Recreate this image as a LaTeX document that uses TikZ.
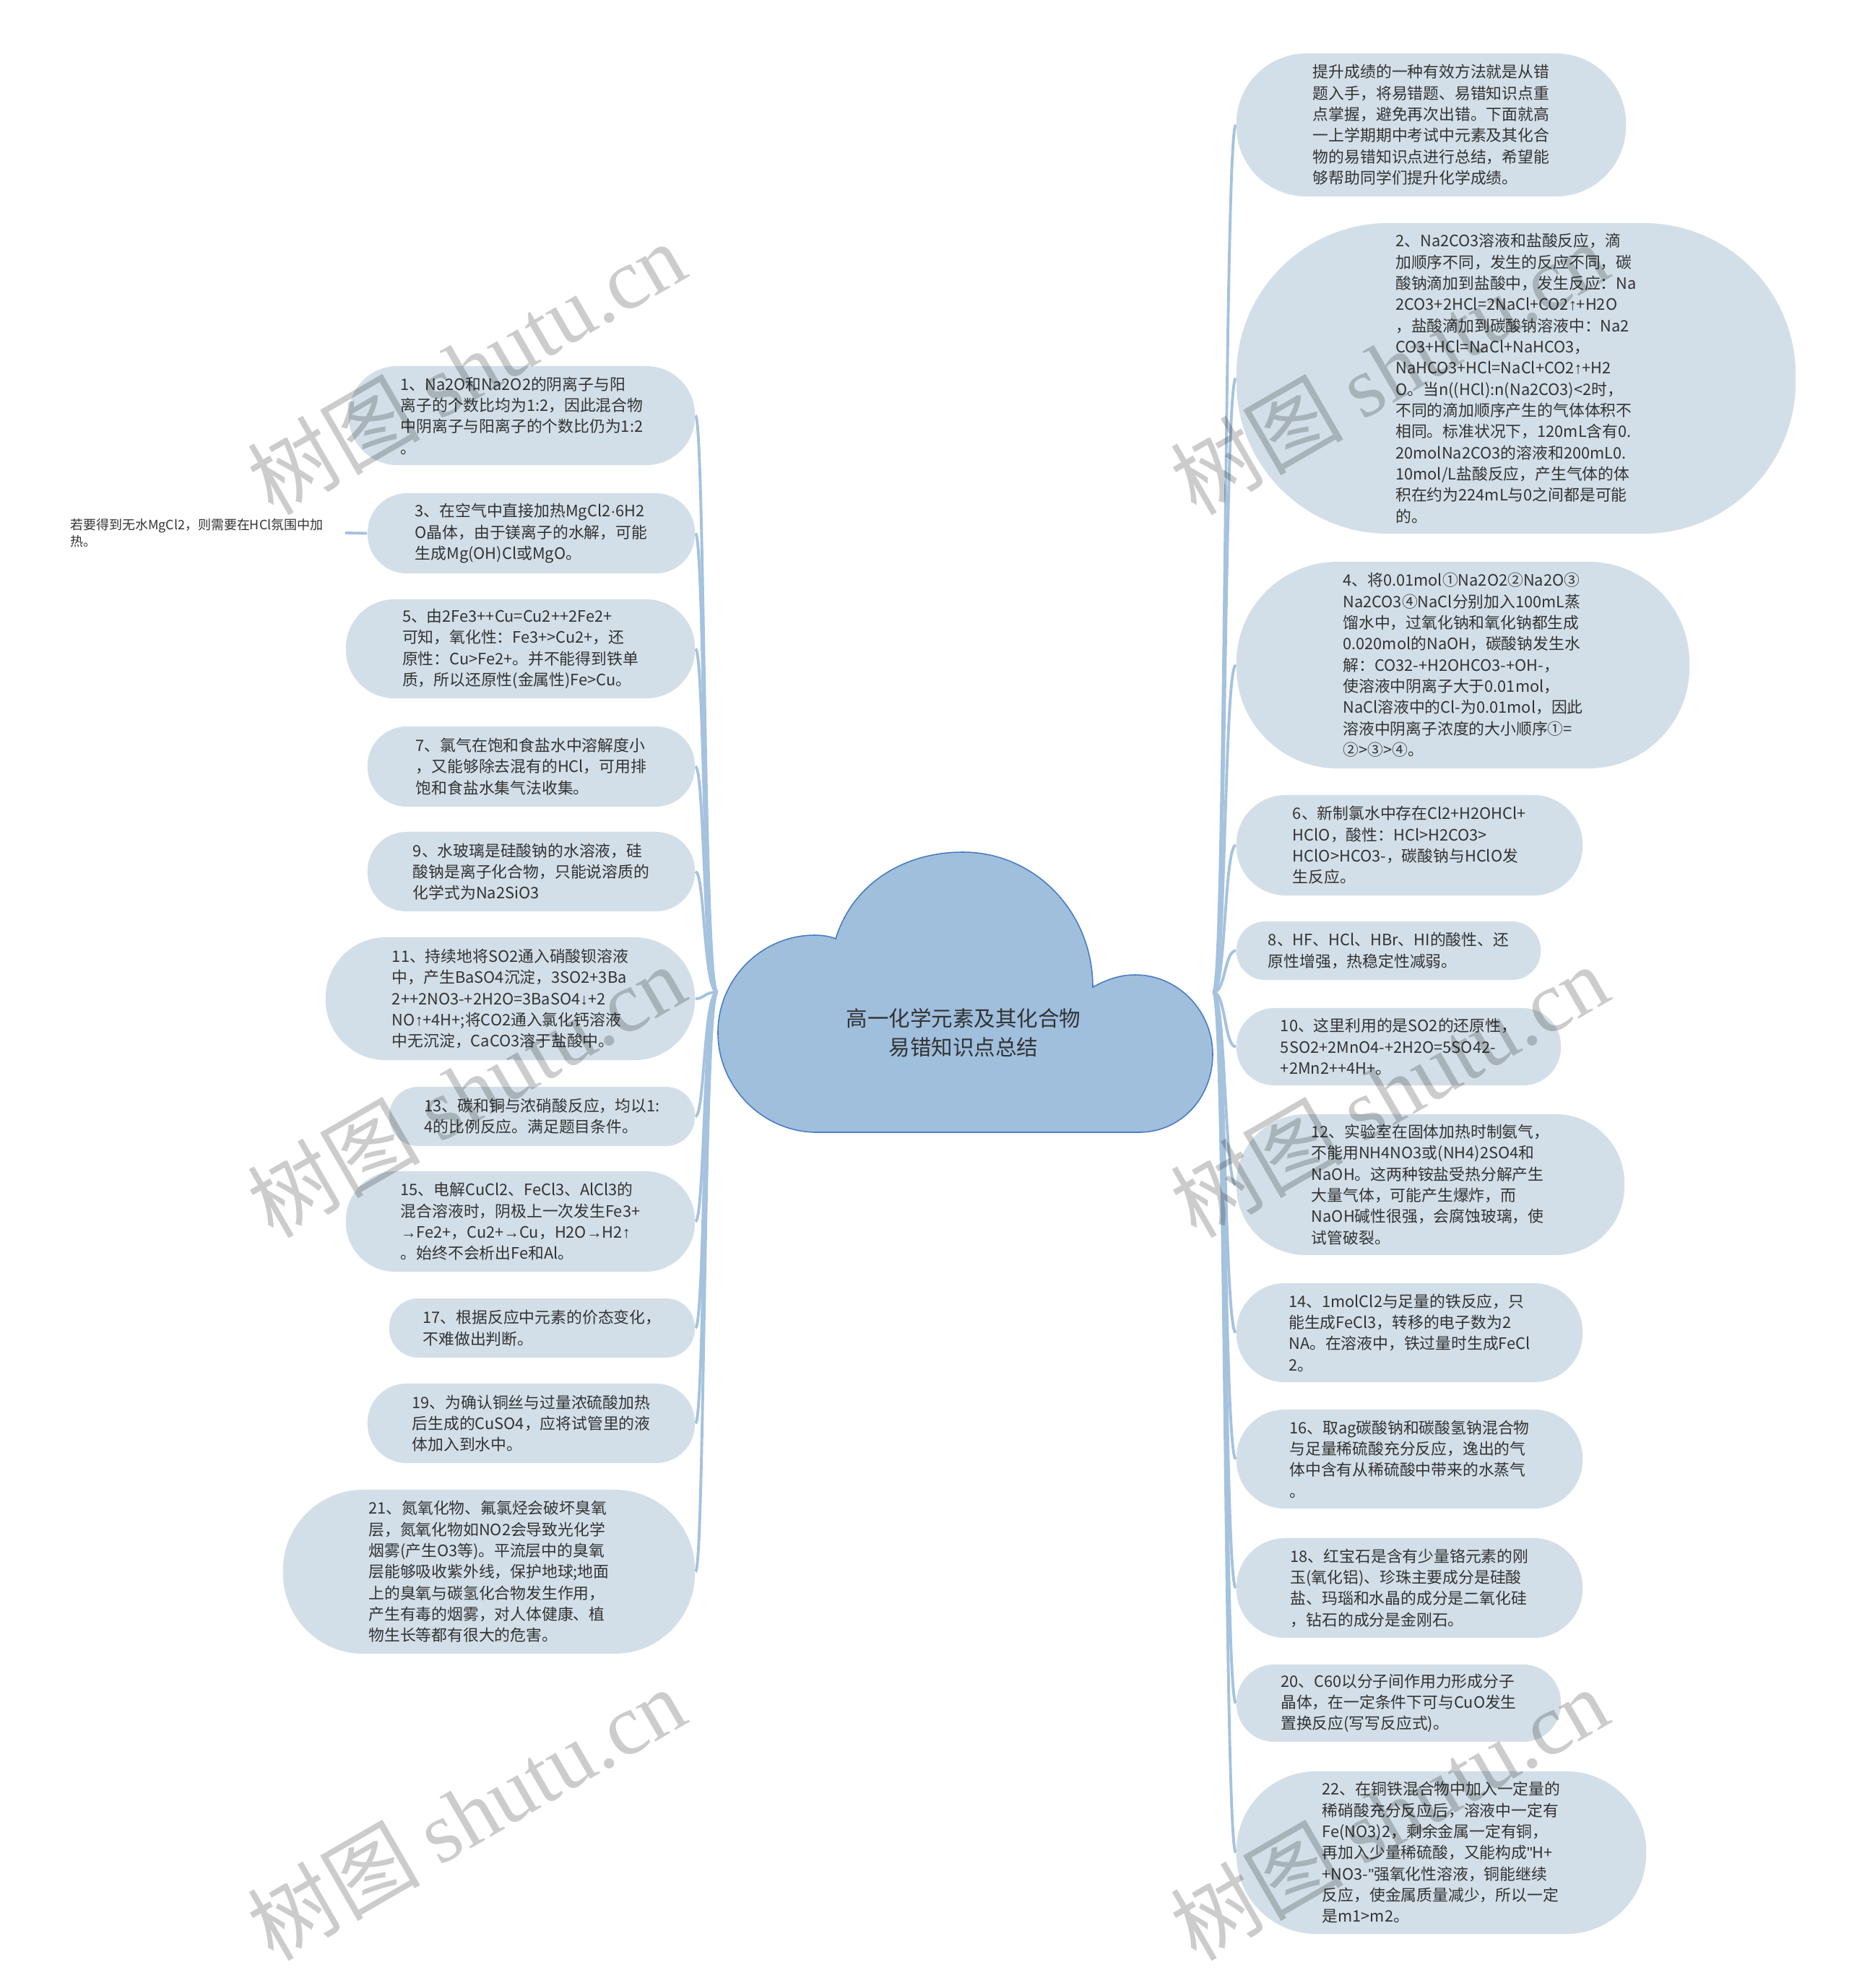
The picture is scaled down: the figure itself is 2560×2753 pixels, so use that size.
\documentclass[tikz,border=0pt]{standalone}
\usepackage{fontspec}
\setmainfont{Noto Sans CJK SC}
\newfontfamily\wmserif{Liberation Serif}
\newfontfamily\sym{Liberation Sans}[Ligatures=TeXOff]
\newcommand\up{{\sym ↑}}
\newcommand\dn{{\sym ↓}}
\newcommand\ra{{\sym →}}
\newcommand\md{{\sym ·}}
\newcommand\qt{{\sym "}}
\definecolor{nodefill}{HTML}{D3DFE8}
\definecolor{cloudfill}{HTML}{9FBFDD}
\definecolor{clouddraw}{HTML}{4A7BC4}
\definecolor{linkc}{HTML}{A5C2DE}
\definecolor{textc}{HTML}{333333}
\pgfdeclarelayer{bg}\pgfdeclarelayer{fg}\pgfsetlayers{bg,main,fg}
\begin{document}
\begin{tikzpicture}[x=0.01cm,y=-0.01cm,
  leaf/.style 2 args={rectangle, fill=nodefill, inner sep=0pt,
    minimum width=#1cm, minimum height=#2cm, rounded corners=#2*0.49cm,
    align=left, text=textc, font=\fontsize{6.2pt}{8.34pt}\selectfont},
  notetext/.style={inner xsep=0.3cm, inner ysep=0pt, align=left, text=textc,
    font=\fontsize{5.1pt}{6.5pt}\selectfont},
  rootbox/.style={rectangle, inner sep=0pt, minimum width=6.85cm, minimum height=3.88cm},
  roottext/.style={align=center, text=textc, inner sep=0pt,
    font=\fontsize{8.4pt}{11.4pt}\selectfont},
  link/.style={draw=linkc, line width=1.1pt},
  wm/.style={rotate=30, text=black, opacity=0.2, inner sep=0pt,
    font=\fontsize{34pt}{34pt}\selectfont}
]
\useasboundingbox (0,0) rectangle (2560,2753);
\begin{pgfonlayer}{bg}
\fill[white] (0,0) rectangle (2560,2753);
\end{pgfonlayer}

% ---------- cloud (central topic) ----------
\node[rootbox] (root) at (1336.5,1374) {};
\filldraw[fill=cloudfill, draw=clouddraw, line width=0.45pt]
  (1131,1568) .. controls (1056,1568) and (994,1505) .. (994,1430)
  .. controls (994,1355) and (1055,1295) .. (1128,1295)
  .. controls (1140,1295) and (1150,1297) .. (1157,1300)
  .. controls (1180,1225) and (1250,1180) .. (1333,1180)
  .. controls (1432,1180) and (1513,1262) .. (1513,1367)
  .. controls (1535,1355) and (1552,1350) .. (1572,1350)
  .. controls (1631,1350) and (1679,1400) .. (1679,1460)
  .. controls (1679,1520) and (1635,1568) .. (1577,1568)
  -- cycle;
\node[roottext] (title) at (1334,1430) {高一化学元素及其化合物\\易错知识点总结};

% ---------- right side ----------
\node[leaf={5.39}{1.98}] (R0) at (1981.5,173) {提升成绩的一种有效方法就是从错\\题入手，将易错题、易错知识点重\\点掌握，避免再次出错。下面就高\\一上学期期中考试中元素及其化合\\物的易错知识点进行总结，希望能\\够帮助同学们提升化学成绩。};
\node[leaf={7.74}{4.30}] (R1) at (2099,524) {2、Na2CO3溶液和盐酸反应，滴\\加顺序不同，发生的反应不同，碳\\酸钠滴加到盐酸中，发生反应：Na\\2CO3+2HCl=2NaCl+CO2\up+H2O\\，盐酸滴加到碳酸钠溶液中：Na2\\CO3+HCl=NaCl+NaHCO3，\\NaHCO3+HCl=NaCl+CO2\up+H2\\O。当n((HCl):n(Na2CO3)<2时，\\不同的滴加顺序产生的气体体积不\\相同。标准状况下，120mL含有0.\\20molNa2CO3的溶液和200mL0.\\10mol/L盐酸反应，产生气体的体\\积在约为224mL与0之间都是可能\\的。};
\node[leaf={6.27}{2.86}] (R2) at (2025.5,921) {4、将0.01mol①Na2O2②Na2O③\\Na2CO3④NaCl分别加入100mL蒸\\馏水中，过氧化钠和氧化钠都生成\\0.020mol的NaOH，碳酸钠发生水\\解：CO32-+H2OHCO3-+OH-，\\使溶液中阴离子大于0.01mol，\\NaCl溶液中的Cl-为0.01mol，因此\\溶液中阴离子浓度的大小顺序①=\\②>③>④。};
\node[leaf={4.79}{1.39}] (R3) at (1951.5,1170.5) {6、新制氯水中存在Cl2+H2OHCl+\\HClO，酸性：HCl>H2CO3>\\HClO>HCO3-，碳酸钠与HClO发\\生反应。};
\node[leaf={4.21}{0.81}] (R4) at (1922.5,1316.5) {8、HF、HCl、HBr、HI的酸性、还\\原性增强，热稳定性减弱。};
\node[leaf={4.49}{1.07}] (R5) at (1936.5,1449.5) {10、这里利用的是SO2的还原性，\\5SO2+2MnO4-+2H2O=5SO42-\\+2Mn2++4H+。};
\node[leaf={5.37}{1.95}] (R6) at (1980.5,1640.5) {12、实验室在固体加热时制氨气，\\不能用NH4NO3或(NH4)2SO4和\\NaOH。这两种铵盐受热分解产生\\大量气体，可能产生爆炸，而\\NaOH碱性很强，会腐蚀玻璃，使\\试管破裂。};
\node[leaf={4.79}{1.37}] (R7) at (1951.5,1845.5) {14、1molCl2与足量的铁反应，只\\能生成FeCl3，转移的电子数为2\\NA。在溶液中，铁过量时生成FeCl\\2。};
\node[leaf={4.79}{1.37}] (R8) at (1951.5,2020.5) {16、取ag碳酸钠和碳酸氢钠混合物\\与足量稀硫酸充分反应，逸出的气\\体中含有从稀硫酸中带来的水蒸气\\。};
\node[leaf={4.79}{1.38}] (R9) at (1951.5,2199) {18、红宝石是含有少量铬元素的刚\\玉(氧化铝)、珍珠主要成分是硅酸\\盐、玛瑙和水晶的成分是二氧化硅\\，钻石的成分是金刚石。};
\node[leaf={4.49}{1.07}] (R10) at (1936.5,2358.5) {20、C60以分子间作用力形成分子\\晶体，在一定条件下可与CuO发生\\置换反应(写写反应式)。};
\node[leaf={5.67}{2.25}] (R11) at (1995.5,2565.5) {22、在铜铁混合物中加入一定量的\\稀硝酸充分反应后，溶液中一定有\\Fe(NO3)2，剩余金属一定有铜，\\再加入少量稀硫酸，又能构成\qt H+\\+NO3-\qt 强氧化性溶液，铜能继续\\反应，使金属质量减少，所以一定\\是m1>m2。};

% ---------- left side ----------
\node[leaf={4.79}{1.37}] (L0) at (722.5,575.5) {1、Na2O和Na2O2的阴离子与阳\\离子的个数比均为1:2，因此混合物\\中阴离子与阳离子的个数比仍为1:2\\。};
\node[leaf={4.53}{1.11}] (L1) at (735.5,738.5) {3、在空气中直接加热MgCl2\md 6H2\\O晶体，由于镁离子的水解，可能\\生成Mg(OH)Cl或MgO。};
\node[notetext, anchor=east] (note) at (478,738) {若要得到无水MgCl2，则需要在HCl氛围中加\\热。};
\node[leaf={4.83}{1.37}] (L2) at (720.5,898.5) {5、由2Fe3++Cu=Cu2++2Fe2+\\可知，氧化性：Fe3+>Cu2+，还\\原性：Cu>Fe2+。并不能得到铁单\\质，所以还原性(金属性)Fe>Cu。};
\node[leaf={4.53}{1.11}] (L3) at (735.5,1061.5) {7、氯气在饱和食盐水中溶解度小\\，又能够除去混有的HCl，可用排\\饱和食盐水集气法收集。};
\node[leaf={4.53}{1.10}] (L4) at (735.5,1207) {9、水玻璃是硅酸钠的水溶液，硅\\酸钠是离子化合物，只能说溶质的\\化学式为Na2SiO3};
\node[leaf={5.11}{1.70}] (L5) at (706.5,1383) {11、持续地将SO2通入硝酸钡溶液\\中，产生BaSO4沉淀，3SO2+3Ba\\2++2NO3-+2H2O=3BaSO4\dn+2\\NO\up+4H+;将CO2通入氯化钙溶液\\中无沉淀，CaCO3溶于盐酸中。};
\node[leaf={4.23}{0.82}] (L6) at (750.5,1546) {13、碳和铜与浓硝酸反应，均以1:\\4的比例反应。满足题目条件。};
\node[leaf={4.83}{1.39}] (L7) at (720.5,1691.5) {15、电解CuCl2、FeCl3、AlCl3的\\混合溶液时，阴极上一次发生Fe3+\\\ra Fe2+，Cu2+\ra Cu，H2O\ra H2\up\\。始终不会析出Fe和Al。};
\node[leaf={4.23}{0.82}] (L8) at (750.5,1839) {17、根据反应中元素的价态变化，\\不难做出判断。};
\node[leaf={4.53}{1.10}] (L9) at (735.5,1971) {19、为确认铜丝与过量浓硫酸加热\\后生成的CuSO4，应将试管里的液\\体加入到水中。};
\node[leaf={5.70}{2.27}] (L10) at (677,2176.5) {21、氮氧化物、氟氯烃会破坏臭氧\\层，氮氧化物如NO2会导致光化学\\烟雾(产生O3等)。平流层中的臭氧\\层能够吸收紫外线，保护地球;地面\\上的臭氧与碳氢化合物发生作用，\\产生有毒的烟雾，对人体健康、植\\物生长等都有很大的危害。};

% ---------- connectors ----------
\begin{pgfonlayer}{bg}
\foreach \n in {L0,L1,L2,L3,L4,L5,L6,L7,L8,L9,L10}
  \draw[link] (root.west) .. controls +(-19,0) and +(13,0) .. (\n.east);
\foreach \n in {R0,R1,R2,R3,R4,R5,R6,R7,R8,R9,R10,R11}
  \draw[link] (root.east) .. controls +(17,0) and +(-16,0) .. (\n.west);
\draw[link] (L1.west) -- (note.east);
\end{pgfonlayer}

% ---------- watermarks ----------
\begin{pgfonlayer}{fg}
\node[wm] (wm1) at (645,509) {树图 {\wmserif shutu.cn}};
\node[wm] (wm2) at (1923,509) {树图 {\wmserif shutu.cn}};
\node[wm] (wm3) at (645,1510) {树图 {\wmserif shutu.cn}};
\node[wm] (wm4) at (1923,1510) {树图 {\wmserif shutu.cn}};
\node[wm] (wm5) at (645,2511) {树图 {\wmserif shutu.cn}};
\node[wm] (wm6) at (1923,2511) {树图 {\wmserif shutu.cn}};
\end{pgfonlayer}
\end{tikzpicture}
\end{document}
